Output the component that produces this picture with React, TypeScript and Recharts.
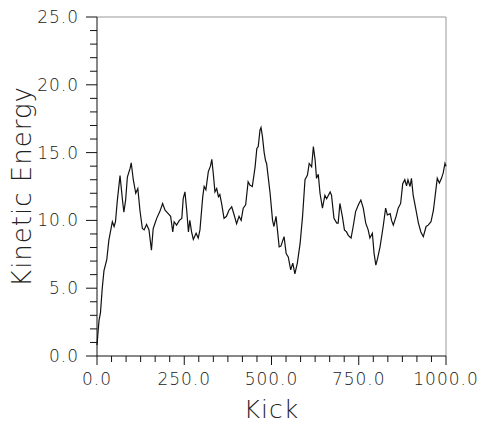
import { LineChart, Line, XAxis, YAxis, ReferenceLine } from "recharts"

// kick number and kinetic energy
const kicks = [
  0, 3, 6, 10, 15, 20, 28, 34, 44, 49, 53, 58, 66, 73, 77, 82, 87, 95, 98, 104,
  111, 117, 123, 130, 135, 142, 149, 156, 161, 165, 171, 180, 188, 195, 204, 211, 217, 221, 228, 236,
  243, 247, 252, 257, 262, 266, 271, 276, 284, 290, 295, 303, 307, 312, 319, 325, 329, 333, 338, 343,
  348, 352, 357, 364, 371, 378, 386, 393, 400, 407, 413, 419, 426, 433, 438, 445, 453, 458, 462, 467,
  470, 474, 479, 483, 486, 496, 503, 507, 513, 517, 522, 527, 536, 542, 548, 555, 561, 567, 574, 582,
  589, 596, 603, 608, 615, 620, 625, 629, 634, 639, 646, 653, 658, 668, 672, 679, 687, 691, 696, 703,
  709, 715, 720, 728, 734, 741, 749, 756, 763, 770, 777, 782, 789, 794, 799, 804, 811, 820, 827, 832,
  840, 844, 849, 857, 863, 870, 876, 882, 887, 891, 897, 901, 906, 913, 921, 928, 935, 943, 949, 957,
  964, 971, 975, 981, 987, 992, 997, 1000,
]
const energy = [
  0.8, 1.8, 2.65, 3.2, 5.0, 6.3, 7.1, 8.55, 9.9, 9.55, 9.9, 11.4, 13.3, 11.5, 10.6, 11.5, 13.2, 13.85, 14.25, 13.0,
  12.0, 12.35, 10.75, 9.4, 9.3, 9.7, 9.3, 7.8, 9.4, 9.7, 10.15, 10.65, 11.25, 10.75, 10.5, 10.3, 9.15, 9.9, 9.65, 10.0,
  10.15, 11.6, 12.1, 10.75, 9.15, 10.0, 9.15, 8.6, 9.05, 8.7, 9.3, 11.75, 12.5, 12.25, 13.6, 14.0, 14.5, 13.5, 12.1, 12.35,
  11.75, 11.9, 11.25, 10.15, 10.3, 10.75, 11.0, 10.4, 9.75, 10.3, 10.0, 10.9, 11.15, 12.85, 12.6, 12.5, 13.95, 15.3, 15.45, 16.65,
  16.85, 16.2, 15.0, 14.4, 14.2, 12.0, 10.0, 9.55, 10.3, 9.3, 8.05, 8.1, 8.8, 7.55, 7.3, 6.35, 6.85, 6.05, 6.85, 8.3,
  10.3, 13.0, 13.35, 14.2, 13.95, 15.45, 14.45, 13.1, 13.4, 12.0, 10.9, 11.85, 11.6, 12.1, 11.85, 10.15, 9.8, 9.8, 11.25, 10.3,
  9.3, 9.15, 8.9, 8.7, 9.55, 10.65, 11.15, 11.5, 10.9, 9.8, 9.3, 8.7, 9.05, 7.55, 6.7, 7.2, 8.05, 9.55, 10.9, 10.4,
  10.5, 10.0, 9.65, 10.3, 10.9, 11.25, 12.7, 13.0, 12.55, 13.0, 12.5, 13.1, 11.85, 10.9, 9.8, 9.15, 8.8, 9.55, 9.65, 9.9,
  10.75, 12.25, 13.1, 12.75, 13.1, 13.5, 14.2, 14.0,
]

const xMajor = [0, 250, 500, 750, 1000]
const yMajor = [0, 5, 10, 15, 20, 25]
// 6 minor steps between x labels, 5 between y labels
const xTicks = Array.from({ length: 25 }, (_, i) => (i * 1000) / 24)
const yTicks = Array.from({ length: 26 }, (_, i) => i)

const data = kicks.map((k, i) => ({ kick: k, ke: energy[i] }))

const font = {
  fontFamily: "'DejaVu Sans', sans-serif",
  fontWeight: 200,
  fill: "#222",
  letterSpacing: 1,
}

const isMajor = (v: number, list: number[]) => list.some((m) => Math.abs(m - v) < 0.01)

function XTick({ x, y, payload }: any) {
  const major = isMajor(payload.value, xMajor)
  return (
    <g>
      <line x1={x} y1={y} x2={x} y2={y + (major ? 9 : 6)} stroke="#111" />
      {major && (
        <text x={x} y={y + 29} textAnchor="middle" fontSize={17} {...font}>
          {payload.value.toFixed(1)}
        </text>
      )}
    </g>
  )
}

function YTick({ x, y, payload }: any) {
  const major = isMajor(payload.value, yMajor)
  return (
    <g>
      <line x1={x} y1={y} x2={x - (major ? 11 : 7)} y2={y} stroke="#111" />
      {major && (
        <text x={x - 18} y={y + 6} textAnchor="end" fontSize={17} {...font}>
          {payload.value.toFixed(1)}
        </text>
      )}
    </g>
  )
}

export default function App() {
  return (
    <div style={{ position: "absolute", left: 0, top: 0, width: 479, height: 423, background: "#fff" }}>
      <LineChart width={479} height={423} data={data} margin={{ top: 17, right: 33, bottom: 0, left: 0 }}>
        <XAxis
          dataKey="kick"
          type="number"
          domain={[0, 1000]}
          ticks={xTicks}
          interval={0}
          height={67}
          tickSize={0}
          tickMargin={0}
          tickLine={false}
          tick={<XTick />}
          axisLine={{ stroke: "#111" }}
          label={{
            value: "Kick",
            position: "insideBottom",
            offset: 5,
            fontSize: 25,
            ...font,
            style: { fill: "#222" },
          }}
        />
        <YAxis
          type="number"
          domain={[0, 25]}
          ticks={yTicks}
          interval={0}
          width={97}
          tickSize={0}
          tickMargin={0}
          tickLine={false}
          tick={<YTick />}
          axisLine={{ stroke: "#111" }}
          label={{
            value: "Kinetic Energy",
            angle: -90,
            position: "insideLeft",
            offset: 22,
            fontSize: 26,
            ...font,
            style: { textAnchor: "middle", fill: "#222" },
          }}
        />
        <ReferenceLine y={25} stroke="#999" />
        <ReferenceLine x={1000} stroke="#999" />
        <Line
          dataKey="ke"
          stroke="#111"
          strokeWidth={1.2}
          dot={false}
          isAnimationActive={false}
        />
      </LineChart>
    </div>
  )
}
